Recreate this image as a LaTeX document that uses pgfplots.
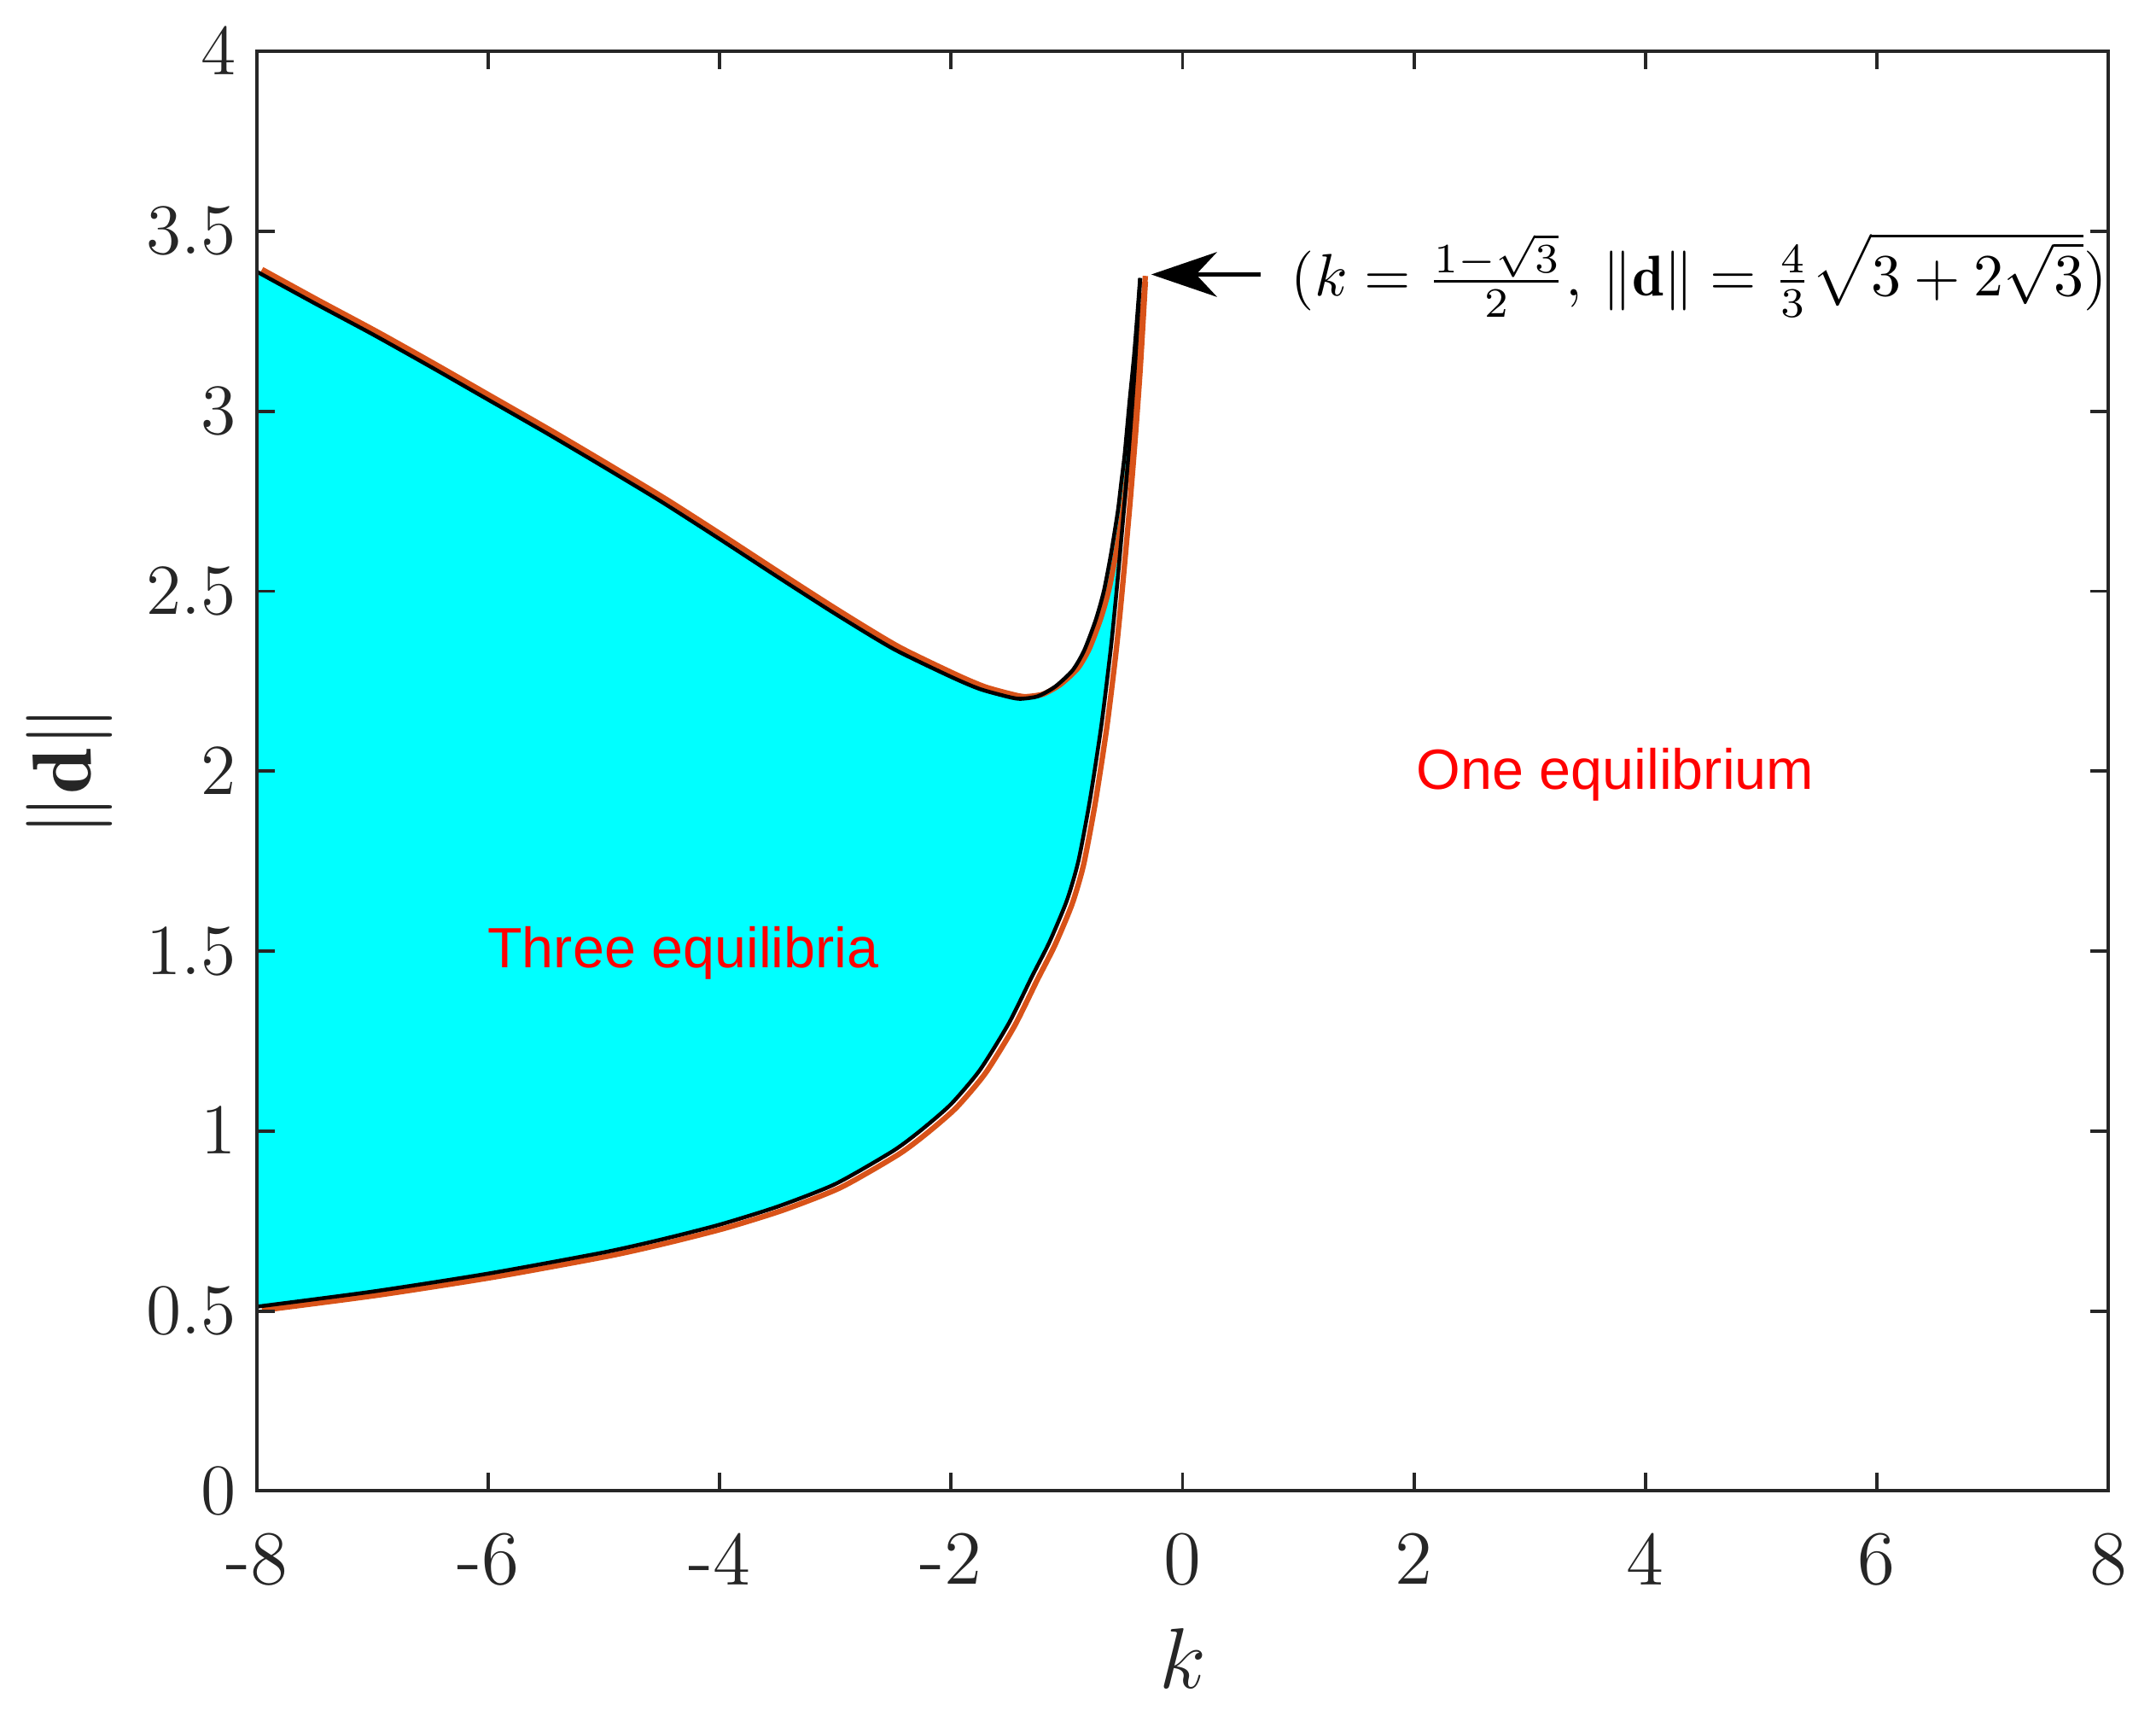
\documentclass[border=0pt]{standalone}
\usepackage{pgfplots}
\usepackage{pgfplotstable}
\pgfplotsset{compat=1.18}
\usetikzlibrary{arrows.meta}
\usepackage{fontspec}
\newfontfamily\arial{Liberation Sans}
\definecolor{mlorange}{rgb}{0.85,0.325,0.098}
\definecolor{axgray}{rgb}{0.15,0.15,0.15}
\definecolor{fillcyan}{rgb}{0,1,1}
\protected\def\annfont{\fontsize{9.6}{12}\selectfont}
\protected\def\annottext{$(k=\frac{1-\sqrt{3}}{2},\, \Vert\mathbf{d}\Vert=\frac{4}{3}\sqrt{3+2\sqrt{3}})$}
\protected\def\regfont{\arial\fontsize{9.5}{11}\selectfont}
\pgfplotstableread{
k d
-8.00 3.388
-7.50 3.300
-7.00 3.214
-6.50 3.124
-6.00 3.032
-5.50 2.940
-5.00 2.845
-4.50 2.748
-4.00 2.645
-3.50 2.540
-3.00 2.437
-2.50 2.340
-2.00 2.262
-1.75 2.228
-1.50 2.206
-1.40 2.201
-1.25 2.208
-1.10 2.235
-0.95 2.280
-0.85 2.335
-0.75 2.420
-0.68 2.500
-0.62 2.600
-0.56 2.720
-0.53 2.800
-0.50 2.880
-0.46 3.020
-0.42 3.150
-0.39 3.270
-0.366 3.370
}\uptab
\pgfplotstableread{
k d
-8.00 0.512
-7.00 0.554
-6.00 0.604
-5.00 0.663
-4.50 0.699
-4.00 0.740
-3.50 0.790
-3.00 0.853
-2.50 0.945
-2.25 1.005
-2.00 1.075
-1.75 1.170
-1.50 1.300
-1.30 1.430
-1.15 1.525
-1.00 1.640
-0.90 1.750
-0.80 1.920
-0.70 2.130
-0.62 2.340
-0.57 2.500
-0.50 2.750
-0.45 2.950
-0.41 3.130
-0.366 3.370
}\lowtab
\begin{document}
\begin{tikzpicture}
\begin{axis}[
  scale only axis,
  width=310pt, height=241pt,
  xmin=-8, xmax=8, ymin=0, ymax=4,
  axis on top,
  xtick={-8,-6,-4,-2,0,2,4,6,8},
  xticklabels={-8,-6,-4,-2,0,2,4,6,8},
  ytick={0,0.5,1,1.5,2,2.5,3,3.5,4},
  tick align=inside,
  major tick length=3pt,
  axis line style={axgray, line width=0.55pt},
  tick style={axgray, line width=0.55pt},
  tick label style={font=\fontsize{12.8}{15}\selectfont, text=axgray},
  xticklabel style={yshift=-3.5pt},
  xlabel={$k$},
  ylabel={$\Vert\mathbf{d}\Vert$},
  label style={font=\fontsize{14}{17}\selectfont, text=axgray},
  xlabel style={at={(axis description cs:0.5,-0.116)}, anchor=center},
  ylabel style={at={(axis description cs:-0.101,0.5)}, anchor=center},
]
\addplot[fill=fillcyan, draw=none, forget plot, smooth, tension=0.4] table[x=k, y=d] {\uptab} \closedcycle;
\addplot[fill=white, draw=none, forget plot, smooth, tension=0.4] table[x=k, y=d] {\lowtab} \closedcycle;
\addplot[mlorange, line width=0.9pt, forget plot, smooth, tension=0.4] table[x expr=\thisrow{k}+0.045, y expr=\thisrow{d}+0.006] {\uptab};
\addplot[mlorange, line width=0.9pt, forget plot, smooth, tension=0.4] table[x expr=\thisrow{k}+0.045, y expr=\thisrow{d}-0.010] {\lowtab};
\addplot[black, line width=0.65pt, forget plot, smooth, tension=0.4] table[x=k, y=d] {\uptab};
\addplot[black, line width=0.65pt, forget plot, smooth, tension=0.4] table[x=k, y=d] {\lowtab};
\coordinate (atail) at (axis cs:0.675,3.38);
\coordinate (atip) at (axis cs:-0.27,3.38);
\coordinate (atext) at (axis cs:0.93,3.38);
\coordinate (tthree) at (axis cs:-4.315,1.494);
\coordinate (tone) at (axis cs:3.74,1.99);
\end{axis}
\draw[black, line width=0.6pt, -{Stealth[length=11pt,width=7.5pt,inset=3.5pt]}] (atail) -- (atip);
\node[anchor=west, inner sep=0pt, font=\annfont] at (atext) {\annottext};
\node[font=\regfont, text=red] at (tthree) {Three equilibria};
\node[font=\regfont, text=red] at (tone) {One equilibrium};
\pgfresetboundingbox
\path[use as bounding box] ([xshift=-43pt,yshift=-37.6pt]current axis.south west) rectangle ([xshift=8pt,yshift=8.6pt]current axis.north east);
\end{tikzpicture}
\end{document}
